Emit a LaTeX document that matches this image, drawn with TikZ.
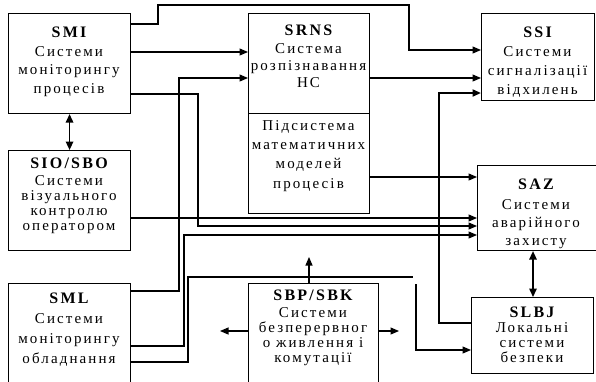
\documentclass[tikz,border=0pt]{standalone}
\usepackage{fontspec}
\setmainfont{Liberation Serif}[LetterSpace=14]
\usetikzlibrary{arrows.meta}
\newcommand{\hd}[1]{{\fontsize{16pt}{18pt}\selectfont\bfseries #1}}
\tikzset{
  box/.style={draw, line width=1.1pt, inner sep=0pt, anchor=north west},
  txt/.style={anchor=north, inner sep=0pt, align=center},
  ln/.style={line width=1.1pt},
  arr/.style={ln, -{Triangle[length=8.5pt,width=7pt]}},
  darr/.style={line width=1.5pt, {Triangle[length=8.5pt,width=7.5pt]}-{Triangle[length=8.5pt,width=7.5pt]}},
  thk/.style={line width=2pt, -{Triangle[length=8.5pt,width=7pt]}}
}
\begin{document}
\begin{tikzpicture}[x=1pt, y=-1pt]
\clip (0,0) rectangle (596,381);
\fill[white] (0,0) rectangle (596,381);
% boxes
\node[box, minimum width=122pt, minimum height=100pt] (smi) at (8,13) {};
\node[box, minimum width=122pt, minimum height=100pt] (sio) at (8,150) {};
\node[box, minimum width=122pt, minimum height=115pt] (sml) at (8,283) {};
\node[box, minimum width=121pt, minimum height=100pt] (srns) at (248,13) {};
\node[box, minimum width=121pt, minimum height=100pt] (mmm) at (248,113) {};
\node[box, minimum width=113pt, minimum height=87pt] (ssi) at (481,13) {};
\node[box, minimum width=119pt, minimum height=85pt] (saz) at (477,165) {};
\node[box, minimum width=122pt, minimum height=76pt] (slbj) at (471,297) {};
\node[box, minimum width=130pt, minimum height=115pt] (sbp) at (248,283) {};
% texts
\node[txt, font={\fontsize{15pt}{18.5pt}\selectfont}] (smit) at (69,27)
  {\hd{SMI}\\Системи\\моніторингу\\процесів};
\node[txt, font={\fontsize{15pt}{15pt}\selectfont}] (siot) at (69,158)
  {\hd{SIO/SBO}\\[2pt]Системи\\візуального\\контролю\\оператором};
\node[txt, font={\fontsize{15pt}{20pt}\selectfont}] (smlt) at (69,293)
  {\hd{SML}\\Системи\\моніторингу\\обладнання};
\node[txt, font={\fontsize{15pt}{17.3pt}\selectfont}] (srnst) at (308.5,25)
  {\hd{SRNS}\\Система\\розпізнавання\\НС};
\node[txt, font={\fontsize{15pt}{19.3pt}\selectfont}] (mmmt) at (308.5,120)
  {Підсистема\\математичних\\моделей\\процесів};
\node[txt, font={\fontsize{15pt}{19pt}\selectfont}] (ssit) at (537.5,27)
  {\hd{SSI}\\Системи\\сигналізації\\відхилень};
\node[txt, font={\fontsize{15pt}{18pt}\selectfont}] (sazt) at (536,179)
  {\hd{SAZ}\\[2pt]Системи\\аварійного\\захисту};
\node[txt, font={\fontsize{15pt}{15pt}\selectfont}] (slbjt) at (532,307)
  {\hd{SLBJ}\\Локальні\\системи\\безпеки};
\node[txt, font={\fontsize{15pt}{15pt}\selectfont}] (sbpt) at (313,290)
  {\hd{SBP/SBK}\\[2pt]Системи\\безперервног\\о живлення і\\комутації};
% connectors
\draw[arr] (smi.east |- 0,24) -- (158,24) -- (158,5) -- (409,5) -- (409,50) -- (ssi.west |- 0,50);
\draw[arr] (smi.east |- 0,52) -- (srns.west |- 0,52);
\draw[arr] (sml.east |- 0,291) -- (179,291) -- (179,78) -- (srns.west |- 0,78);
\draw[arr] (smi.east |- 0,94) -- (198,94) -- (198,226) -- (saz.west |- 0,226);
\draw[arr] (sio.east |- 0,218) -- (saz.west |- 0,218);
\draw[arr] (sml.east |- 0,346) -- (184,346) -- (184,235) -- (saz.west |- 0,235);
\draw[ln] (sml.east |- 0,362) -- (188,362) -- (188,277) -- (413,277);
\draw[arr] (416,284) -- (416,350) -- (slbj.west |- 0,350);
\draw[arr] (srns.east |- 0,78) -- (ssi.west |- 0,78);
\draw[arr] (mmm.east |- 0,177) -- (saz.west |- 0,177);
\draw[thk] (slbj.west |- 0,323) -- (439,323) -- (439,93) -- (ssi.west |- 0,93);
\draw[darr] (saz.south -| 533,0) -- (slbj.north -| 533,0);
\draw[darr] (smi.south) -- (sio.north);
\draw[arr] (sbp.north -| 309,0) -- (309,257);
\draw[arr] (sbp.west |- 0,331) -- (220,331);
\draw[arr] (sbp.east |- 0,331) -- (399,331);
\end{tikzpicture}
\end{document}
